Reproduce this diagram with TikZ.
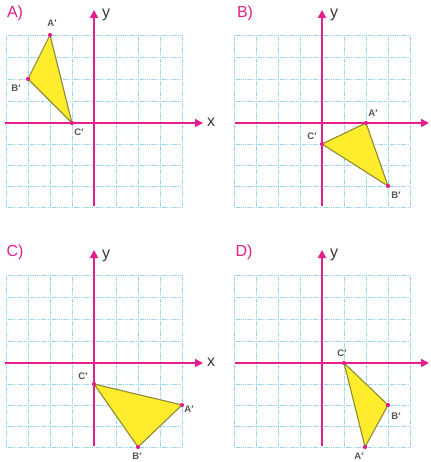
\documentclass[tikz,border=0pt]{standalone}
\usepackage{fontspec}
\setmainfont{Liberation Sans}
\usetikzlibrary{arrows.meta}
\definecolor{axpink}{RGB}{228,30,138}
\definecolor{gridblue}{RGB}{150,212,238}
\definecolor{triyellow}{RGB}{255,236,45}
\definecolor{triedge}{RGB}{140,140,50}
\definecolor{labgray}{RGB}{85,85,85}
\definecolor{axgray}{RGB}{55,55,55}
\tikzset{
  gridline/.style={draw=gridblue, line width=0.6pt, dash pattern=on 1.4pt off 0.8pt},
  axisline/.style={draw=axpink, line width=1.7pt, -{Triangle[length=8pt,width=8pt]}},
  tri/.style={fill=triyellow, draw=triedge, line width=1.1pt, line join=round},
  vdot/.style={circle, fill=axpink, inner sep=0pt, minimum size=4.2pt},
  vlab/.style={font=\bfseries\fontsize{9.5}{9.5}\selectfont, text=labgray, inner sep=0pt},
  panellab/.style={font=\fontsize{16}{16}\selectfont, text=axpink, inner sep=0pt},
  axlab/.style={font=\fontsize{16}{16}\selectfont, text=axgray, inner sep=0pt}
}
\newcommand\drawpanelgrid{%
  \foreach \i in {-88,-66,...,88} \draw[gridline] (\i,-88) -- (\i,84);
  \foreach \j in {-88,-66,-44,-22,21,42,63,84} \draw[gridline] (-88,\j) -- (88,\j);
}
\begin{document}
\begin{tikzpicture}[x=1pt,y=-1pt]
\useasboundingbox[fill=white] (0,0) rectangle (430,462);

% ---------- Panel A ----------
\begin{scope}[shift={(94,123)}]
  \drawpanelgrid
  \coordinate (axL) at (-89,0); \coordinate (axR) at (109,0);
  \coordinate (ayB) at (0,83);  \coordinate (ayT) at (0,-113);
  \draw[axisline] (axL) -- (axR);
  \draw[axisline] (ayB) -- (ayT);
  \node[axlab] (ax) at (117,-1) {x};
  \node[axlab] (ay) at (12,-108) {y};
  \coordinate (aA) at (-44,-88);
  \coordinate (aB) at (-66,-44);
  \coordinate (aC) at (-22,0);
  \draw[tri] (aA) -- (aB) -- (aC) -- cycle;
  \node[vdot] (daA) at (aA) {}; \node[vdot] (daB) at (aB) {}; \node[vdot] (daC) at (aC) {};
  \node[vlab] (laA) at (-42,-100) {A′};
  \node[vlab] (laB) at (-78,-35) {B′};
  \node[vlab] (laC) at (-15,9) {C′};
\end{scope}
\node[panellab] (pA) at (15,13) {A)};

% ---------- Panel B ----------
\begin{scope}[shift={(322,123)}]
  \drawpanelgrid
  \coordinate (bxL) at (-87,0); \coordinate (bxR) at (107,0);
  \coordinate (byB) at (0,83);  \coordinate (byT) at (0,-113);
  \draw[axisline] (bxL) -- (bxR);
  \draw[axisline] (byB) -- (byT);
  \node[axlab] (by) at (12,-108) {y};
  \coordinate (bA) at (44,0);
  \coordinate (bB) at (66,63);
  \coordinate (bC) at (0,21);
  \draw[tri] (bA) -- (bB) -- (bC) -- cycle;
  \node[vdot] (dbA) at (bA) {}; \node[vdot] (dbB) at (bB) {}; \node[vdot] (dbC) at (bC) {};
  \node[vlab] (lbA) at (51,-10) {A′};
  \node[vlab] (lbB) at (74,72) {B′};
  \node[vlab] (lbC) at (-10,13) {C′};
\end{scope}
\node[panellab] (pB) at (245,13) {B)};

% ---------- Panel C ----------
\begin{scope}[shift={(94,363)}]
  \drawpanelgrid
  \coordinate (cxL) at (-89,0); \coordinate (cxR) at (109,0);
  \coordinate (cyB) at (0,83);  \coordinate (cyT) at (0,-113);
  \draw[axisline] (cxL) -- (cxR);
  \draw[axisline] (cyB) -- (cyT);
  \node[axlab] (cx) at (117,-1) {x};
  \node[axlab] (cy) at (12,-107) {y};
  \coordinate (cA) at (88,42);
  \coordinate (cB) at (44,84);
  \coordinate (cC) at (0,21);
  \draw[tri] (cA) -- (cB) -- (cC) -- cycle;
  \node[vdot] (dcA) at (cA) {}; \node[vdot] (dcB) at (cB) {}; \node[vdot] (dcC) at (cC) {};
  \node[vlab] (lcA) at (95,46) {A′};
  \node[vlab] (lcB) at (43,93) {B′};
  \node[vlab] (lcC) at (-11,13) {C′};
\end{scope}
\node[panellab] (pC) at (15,252) {C)};

% ---------- Panel D ----------
\begin{scope}[shift={(322,363)}]
  \drawpanelgrid
  \coordinate (dxL) at (-87,0); \coordinate (dxR) at (107,0);
  \coordinate (dyB) at (0,83);  \coordinate (dyT) at (0,-113);
  \draw[axisline] (dxL) -- (dxR);
  \draw[axisline] (dyB) -- (dyT);
  \node[axlab] (dy) at (12,-108) {y};
  \coordinate (dA) at (43,84);
  \coordinate (dB) at (66,42);
  \coordinate (dC) at (22,0);
  \draw[tri] (dA) -- (dB) -- (dC) -- cycle;
  \node[vdot] (ddA) at (dA) {}; \node[vdot] (ddB) at (dB) {}; \node[vdot] (ddC) at (dC) {};
  \node[vlab] (ldA) at (37,93) {A′};
  \node[vlab] (ldB) at (74,53) {B′};
  \node[vlab] (ldC) at (20,-10) {C′};
\end{scope}
\node[panellab] (pD) at (244,252) {D)};
\end{tikzpicture}
\end{document}
